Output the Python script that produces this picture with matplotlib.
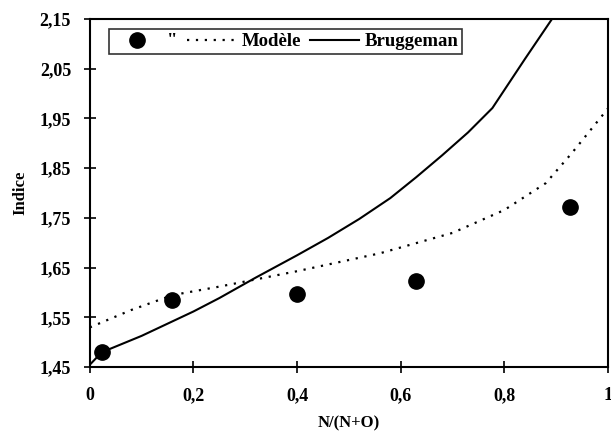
import numpy as np
import matplotlib
matplotlib.use('Agg')
import matplotlib.pyplot as plt

# measured points
x_exp = [0.023, 0.158, 0.399, 0.63, 0.927]
n_exp = [1.481, 1.586, 1.597, 1.623, 1.772]

# "Modele" curve
x_mod = [0.0, 0.08, 0.16, 0.25, 0.4, 0.56, 0.7, 0.8, 0.88, 0.93, 1.0]
n_mod = [1.53, 1.565, 1.595, 1.612, 1.643, 1.679, 1.72, 1.766, 1.82, 1.88, 1.97]

# Bruggeman curve
x_brg = [0.0, 0.023, 0.1, 0.2, 0.25, 0.32, 0.4, 0.46, 0.52, 0.58, 0.63, 0.68, 0.73, 0.777, 0.84, 0.892, 0.92]
n_brg = [1.455, 1.48, 1.513, 1.562, 1.589, 1.63, 1.675, 1.71, 1.748, 1.79, 1.832, 1.876, 1.922, 1.971, 2.07, 2.15, 2.2]

yticks = [1.45, 1.55, 1.65, 1.75, 1.85, 1.95, 2.05, 2.15]
xticks = [0, 0.2, 0.4, 0.6, 0.8, 1.0]

plt.rcParams['font.family'] = ['Liberation Serif', 'DejaVu Serif']
plt.rcParams['font.weight'] = 'bold'

fig = plt.figure(figsize=(6.11, 4.32), dpi=100)
ax = fig.add_axes([0.147, 0.150, 0.848, 0.806])

ax.plot(x_exp, n_exp, 'o', color='black', markersize=11, label='"')
ax.plot(x_mod, n_mod, color='black', linewidth=1.6, linestyle=(0, (1, 3)), label='Modèle')
ax.plot(x_brg, n_brg, color='black', linewidth=1.5, label='Bruggeman')

ax.set_xlim(0, 1)
ax.set_ylim(1.45, 2.15)
ax.set_xticks(xticks)
ax.set_yticks(yticks)
ax.set_xticklabels(['0', '0,2', '0,4', '0,6', '0,8', '1'])
ax.set_yticklabels([('%.2f' % v).replace('.', ',') for v in yticks])
ax.tick_params(direction='inout', length=9, width=1.2, labelsize=13, colors='black', pad=9)
ax.tick_params(axis='x', pad=10)
for s in ax.spines.values():
    s.set_linewidth(1.5)

ax.set_xlabel('N/(N+O)', fontsize=12, fontweight='bold', labelpad=8)
ax.set_ylabel('Indice', fontsize=12, fontweight='bold', labelpad=8)

leg = ax.legend(loc='upper left', bbox_to_anchor=(0.037, 0.97), ncol=3, frameon=True,
                fancybox=False, edgecolor='black', fontsize=13.5, handlelength=2.6,
                columnspacing=0.5, handletextpad=0.3, borderpad=0.2, borderaxespad=0)
leg.get_frame().set_linewidth(1.2)

fig.savefig('out.png', dpi=100)
